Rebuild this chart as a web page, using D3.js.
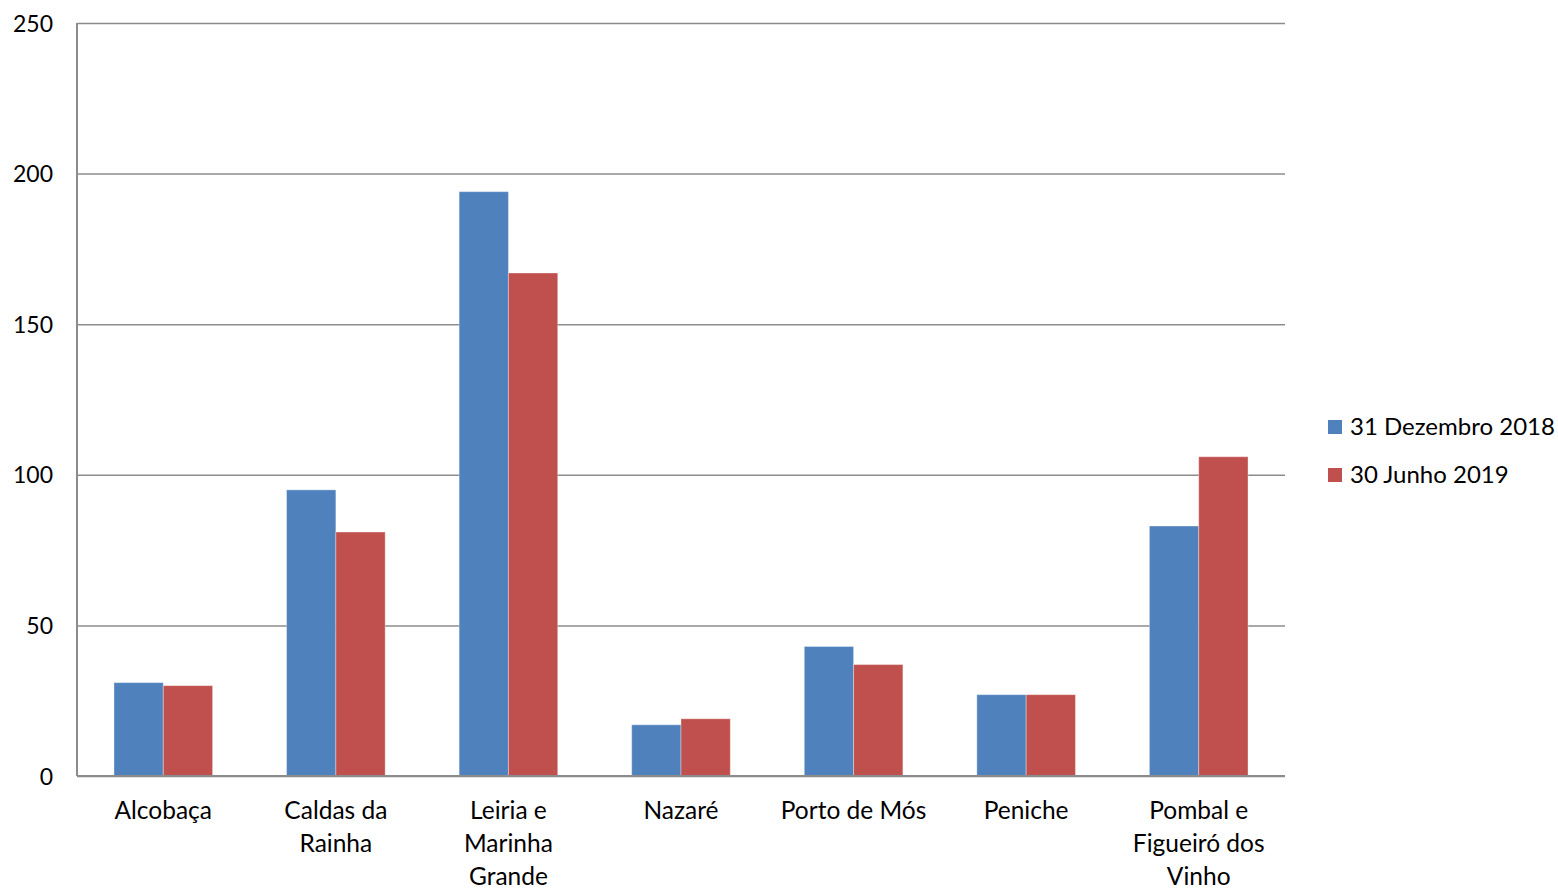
<!DOCTYPE html>
<html>
<head>
<meta charset="utf-8">
<script src="https://cdn.jsdelivr.net/npm/d3@7"></script>
<style>
  body { margin: 0; background: #fff; }
  text { font-family: Lato, "Open Sans", sans-serif; fill: #000; }
</style>
</head>
<body>
<div id="chart"></div>
<script>
// Data
const categories = [
    ["Alcobaça"],
    ["Caldas da", "Rainha"],
    ["Leiria e", "Marinha", "Grande"],
    ["Nazaré"],
    ["Porto de Mós"],
    ["Peniche"],
    ["Pombal e", "Figueiró dos", "Vinho"]
];
const seriesNames = ["31 Dezembro 2018", "30 Junho 2019"];
const dez2018 = [31, 95, 194, 17, 43, 27, 83];
const jun2019 = [30, 81, 167, 19, 37, 27, 106];
const yTicks = [0, 50, 100, 150, 200, 250];

const colors = ["#4F81BD", "#C0504D"];

const W = 1558, H = 888;
const margin = { top: 23, right: 273, bottom: 112, left: 77 };
const width = W - margin.left - margin.right;
const height = H - margin.top - margin.bottom;

const svg = d3.select("#chart")
    .append("svg")
    .attr("width", W)
    .attr("height", H);

const g = svg.append("g")
    .attr("transform", `translate(${margin.left},${margin.top})`);

const keys = categories.map((c, i) => i);

// X band per category, with Excel-like 150% gap
const x = d3.scaleBand()
    .domain(keys)
    .range([0, width])
    .paddingInner(0)
    .paddingOuter(0);

const bw = x.bandwidth() / 3.5;
const x1 = d3.scaleBand()
    .domain([0, 1])
    .range([x.bandwidth() / 2 - bw, x.bandwidth() / 2 + bw]);

const y = d3.scaleLinear()
    .domain([0, 250])
    .range([height, 0]);

// Gridlines
g.append("g")
    .call(d3.axisLeft(y).tickValues(yTicks).tickSize(-width).tickFormat(""))
    .call(s => s.select(".domain").remove())
    .selectAll("line")
    .attr("stroke", "#8c8c8c")
    .attr("stroke-width", 1.5);

// Y axis labels
const yAxis = g.append("g")
    .call(d3.axisLeft(y).tickValues(yTicks).tickSize(0).tickPadding(24));
yAxis.select(".domain").remove();
yAxis.selectAll("text")
    .style("font-size", "23px")
    .attr("dy", "0.35em");

// Bars
const data = [dez2018, jun2019];
data.forEach((vals, si) => {
    g.selectAll(`.bar-${si}`)
        .data(vals)
        .enter().append("rect")
        .attr("class", `bar-${si}`)
        .attr("x", (d, i) => x(i) + x1(si))
        .attr("width", x1.bandwidth())
        .attr("y", d => y(d))
        .attr("height", d => height - y(d))
        .attr("fill", colors[si])
        .attr("stroke", "rgba(255,255,255,0.35)")
        .attr("stroke-width", 1);
});

// Axis lines
g.append("line")
    .attr("x1", 0).attr("x2", 0)
    .attr("y1", 0).attr("y2", height)
    .attr("stroke", "#8c8c8c")
    .attr("stroke-width", 2);
g.append("line")
    .attr("x1", 0).attr("x2", width)
    .attr("y1", height).attr("y2", height)
    .attr("stroke", "#8c8c8c")
    .attr("stroke-width", 2);

// X labels, multi-line
const xLabels = g.append("g");
categories.forEach((lines, i) => {
    const t = xLabels.append("text")
        .attr("x", x(i) + x.bandwidth() / 2)
        .attr("y", height + 34)
        .attr("text-anchor", "middle")
        .style("font-size", "24.5px")
        .attr("dy", "0.35em");
    lines.forEach((ln, j) => {
        t.append("tspan")
            .attr("x", x(i) + x.bandwidth() / 2)
            .attr("dy", j === 0 ? "0.35em" : "33px")
            .text(ln);
    });
});

// Legend
const legend = svg.append("g")
    .attr("transform", `translate(1328, 427)`);
seriesNames.forEach((name, i) => {
    const item = legend.append("g")
        .attr("transform", `translate(0, ${i * 48})`);
    item.append("rect")
        .attr("x", 0).attr("y", -7)
        .attr("width", 14).attr("height", 14)
        .attr("fill", colors[i]);
    item.append("text")
        .attr("x", 22)
        .attr("y", 0)
        .attr("dy", "0.35em")
        .style("font-size", "24px")
        .text(name);
});
</script>
</body>
</html>
